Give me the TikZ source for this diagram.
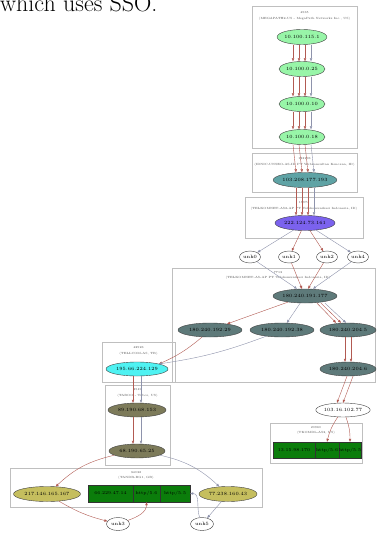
\documentclass[tikz,border=0pt]{standalone}
\usetikzlibrary{arrows.meta,shapes.geometric}
\definecolor{cgreen}{HTML}{98F5A8}
\definecolor{cteal}{HTML}{5FA3A5}
\definecolor{cpurple}{HTML}{7B62EE}
\definecolor{cslate}{HTML}{5E7A7A}
\definecolor{ccyan}{HTML}{4FF2F2}
\definecolor{colive}{HTML}{7D7B5A}
\definecolor{ckhaki}{HTML}{C5BE5E}
\definecolor{crec}{HTML}{0B7D0B}
\definecolor{cbrown}{HTML}{B25A52}
\definecolor{cgrayb}{HTML}{8E93AC}
\begin{document}
\begin{tikzpicture}[x=1pt,y=-1pt,
  ipnode/.style={ellipse,draw=black!75,line width=0.4pt,inner sep=0pt,font=\fontsize{4.8}{5.5}\selectfont},
  unknode/.style={ipnode,fill=white,minimum width=21pt,minimum height=12pt},
  cellbox/.style={rectangle,draw=black!80,line width=0.4pt,fill=crec,inner sep=0pt,minimum height=16pt,font=\fontsize{4.4}{5}\selectfont},
  clusterbox/.style={draw=black!25,line width=0.45pt},
  clab/.style={inner sep=0pt,text=black!70,font=\fontsize{3}{3.5}\selectfont},
  lk/.style={draw=cbrown,line width=0.4pt,-{Triangle[length=3pt,width=2.4pt]}},
  lkg/.style={lk,draw=cgrayb}]
\useasboundingbox (0,0) rectangle (377,534);
\clip (0,0) rectangle (377,534);
\fill[white] (0,0) rectangle (377,534);

% heading text cut off at the top
\node[anchor=base west,inner sep=0pt,font=\fontsize{24}{29}\selectfont] (head) at (0,11.5) {which uses SSO.};

% clusters
\draw[clusterbox] (252,6) rectangle (357,148);
\node[clab] (l1a) at (304.5,13) {4565};
\node[clab] (l1b) at (304.5,19) {(MEGAPATH2-US - MegaPath Networks Inc., US)};
\draw[clusterbox] (252,153) rectangle (357,192);
\node[clab] (l2a) at (304.5,159) {133296};
\node[clab] (l2b) at (304.5,165) {(IDNIC-UNSEO-AS-ID PT Webkonsultan Kencana, ID)};
\draw[clusterbox] (245,197) rectangle (363,238);
\node[clab] (l3a) at (304,203) {17974};
\node[clab] (l3b) at (304,209) {(TELKOMNET-AS2-AP PT Telekomunikasi Indonesia, ID)};
\draw[clusterbox] (172,268) rectangle (375.5,382);
\node[clab] (l4a) at (278,273) {7713};
\node[clab] (l4b) at (278,278) {(TELKOMNET-AS-AP PT Telekomunikasi Indonesia, ID)};
\draw[clusterbox] (102,342) rectangle (175,382);
\node[clab] (l5a) at (138.5,348) {42926};
\node[clab] (l5b) at (138.5,354) {(TELLCOM-AS, TR)};
\draw[clusterbox] (105,385) rectangle (170,465);
\node[clab] (l6a) at (137.5,390) {3549};
\node[clab] (l6b) at (137.5,396) {(TABOO - Tabor, US)};
\draw[clusterbox] (10,468) rectangle (262,507);
\node[clab] (l7a) at (136,473) {34032};
\node[clab] (l7b) at (136,478) {(TANDR-BG1, GB)};
\draw[clusterbox] (270,423) rectangle (362,463);
\node[clab] (l8a) at (316,428) {20960};
\node[clab] (l8b) at (316,433) {(TKOMDL-AS2, US)};

% nodes
\node[ipnode,fill=cgreen,minimum width=46pt,minimum height=15pt] (n1) at (302,37) {10.100.115.1};
\node[ipnode,fill=cgreen,minimum width=46pt,minimum height=15pt] (n2) at (302,69) {10.100.0.25};
\node[ipnode,fill=cgreen,minimum width=46pt,minimum height=15pt] (n3) at (302,104) {10.100.0.10};
\node[ipnode,fill=cgreen,minimum width=46pt,minimum height=15pt] (n4) at (302,137) {10.100.0.18};
\node[ipnode,fill=cteal,minimum width=60pt,minimum height=15pt] (n5) at (305,180) {103.208.177.193};
\node[ipnode,fill=cpurple,minimum width=60pt,minimum height=15pt] (n6) at (305,223) {222.124.73.161};
\node[unknode] (u0) at (250,257) {unk0};
\node[unknode] (u1) at (289,257) {unk1};
\node[unknode] (u2) at (327,257) {unk2};
\node[unknode] (u4) at (358,257) {unk4};
\node[ipnode,fill=cslate,minimum width=64pt,minimum height=14pt] (n7) at (305,296) {180.240.191.177};
\node[ipnode,fill=cslate,minimum width=64pt,minimum height=14pt] (n8) at (210,330) {180.240.192.29};
\node[ipnode,fill=cslate,minimum width=64pt,minimum height=14pt] (n9) at (282,330) {180.240.192.38};
\node[ipnode,fill=cslate,minimum width=56pt,minimum height=14pt] (n10) at (348,330) {180.240.204.5};
\node[ipnode,fill=cslate,minimum width=56pt,minimum height=14pt] (n11) at (348,369) {180.240.204.6};
\node[ipnode,fill=white,minimum width=46pt,minimum height=14pt] (n12) at (343,410) {103.16.102.77};
\node[cellbox,minimum width=42pt] (r1a) at (294,450) {13.15.98.170};
\node[cellbox,minimum width=24pt] (r1b) at (327,450) {http/5.6};
\node[cellbox,minimum width=22pt] (r1c) at (350,450) {http/5.5};
\node[ipnode,fill=ccyan,minimum width=62pt,minimum height=14pt] (n13) at (137,369) {195.66.224.129};
\node[ipnode,fill=colive,minimum width=58pt,minimum height=14pt] (n14) at (137,410) {89.190.68.153};
\node[ipnode,fill=colive,minimum width=56pt,minimum height=14pt] (n15) at (137,451) {68.190.65.25};
\node[ipnode,fill=ckhaki,minimum width=67pt,minimum height=15pt] (n16) at (47,494) {217.146.165.167};
\node[cellbox,minimum width=45pt,minimum height=17pt] (r2a) at (110.5,493.5) {66.229.47.14};
\node[cellbox,minimum width=27pt,minimum height=17pt] (r2b) at (146.5,493.5) {http/5.6};
\node[cellbox,minimum width=30pt,minimum height=17pt] (r2c) at (175,493.5) {http/5.5};
\node[ipnode,fill=ckhaki,minimum width=58pt,minimum height=15pt] (n17) at (228,494) {77.238.160.43};
\node[unknode,minimum width=23pt,minimum height=13pt] (u3) at (118,524) {unk3};
\node[unknode,minimum width=23pt,minimum height=13pt] (u5) at (202,524) {unk5};

% parallel links in the top chain
\foreach \a/\b in {n1/n2,n2/n3,n3/n4,n4/n5,n5/n6}{
  \draw[lk] ([xshift=-9pt]\a.south) -- ([xshift=-9pt]\b.north);
  \draw[lk] ([xshift=-3pt]\a.south) -- ([xshift=-3pt]\b.north);
  \draw[lk] ([xshift=3pt]\a.south) -- ([xshift=3pt]\b.north);
  \draw[lkg] ([xshift=9pt]\a.south) -- ([xshift=9pt]\b.north);
}
% purple to unknown hops
\draw[lkg] (n6) -- (u0);
\draw[lk] (n6) -- (u1);
\draw[lk] (n6) -- (u2);
\draw[lkg] (n6) -- (u4);
\draw[lkg] (u0) -- ([xshift=-8pt]n7.north);
\draw[lk] (u1) -- ([xshift=-3pt]n7.north);
\draw[lk] (u2) -- ([xshift=3pt]n7.north);
\draw[lkg] (u4) -- ([xshift=8pt]n7.north);
% 7713 internal
\draw[lk] (n7) -- (n8);
\draw[lkg] (n7) -- (n9);
\draw[lk] ([xshift=12pt]n7.south) -- ([xshift=-12pt]n10.north);
\draw[lk] ([xshift=16pt]n7.south) -- ([xshift=-7pt]n10.north);
\draw[lkg] ([xshift=20pt]n7.south) -- ([xshift=-2pt]n10.north);
\draw[lk] ([xshift=-3pt]n10.south) -- ([xshift=-3pt]n11.north);
\draw[lk] ([xshift=3pt]n10.south) -- ([xshift=3pt]n11.north);
\draw[lk] ([xshift=-1pt]n11.south) -- ([xshift=-6pt]n12.north);
\draw[lk] ([xshift=5pt]n11.south) -- ([xshift=0pt]n12.north);
\draw[lk] (n12) to[bend right=10] (r1b.north);
\draw[lk] (n12) to[bend left=10] (r1c.north);
% to Turkey
\draw[lk] (n8) to[bend left=8] (n13.north east);
\draw[lkg] (n9) to[bend left=6] (n13.north east);
\draw[lk] ([xshift=-4pt]n13.south) -- ([xshift=-4pt]n14.north);
\draw[lkg] ([xshift=4pt]n13.south) -- ([xshift=4pt]n14.north);
\draw[lk] ([xshift=-4pt]n14.south) -- ([xshift=-4pt]n15.north);
\draw[lkg] ([xshift=4pt]n14.south) -- ([xshift=4pt]n15.north);
% bottom
\draw[lk] (n15) to[bend right=15] (n16);
\draw[lkg] (n15) to[bend left=15] (n17);
\draw[lk] (n16) to[bend left=-8] (u3);
\draw[lk] (u3) to[out=20,in=-90] (r2b.south);
\draw[lkg] (n17) -- (u5);
\draw[lkg] (u5) to[out=110,in=0] (r2c.east);
\end{tikzpicture}
\end{document}
